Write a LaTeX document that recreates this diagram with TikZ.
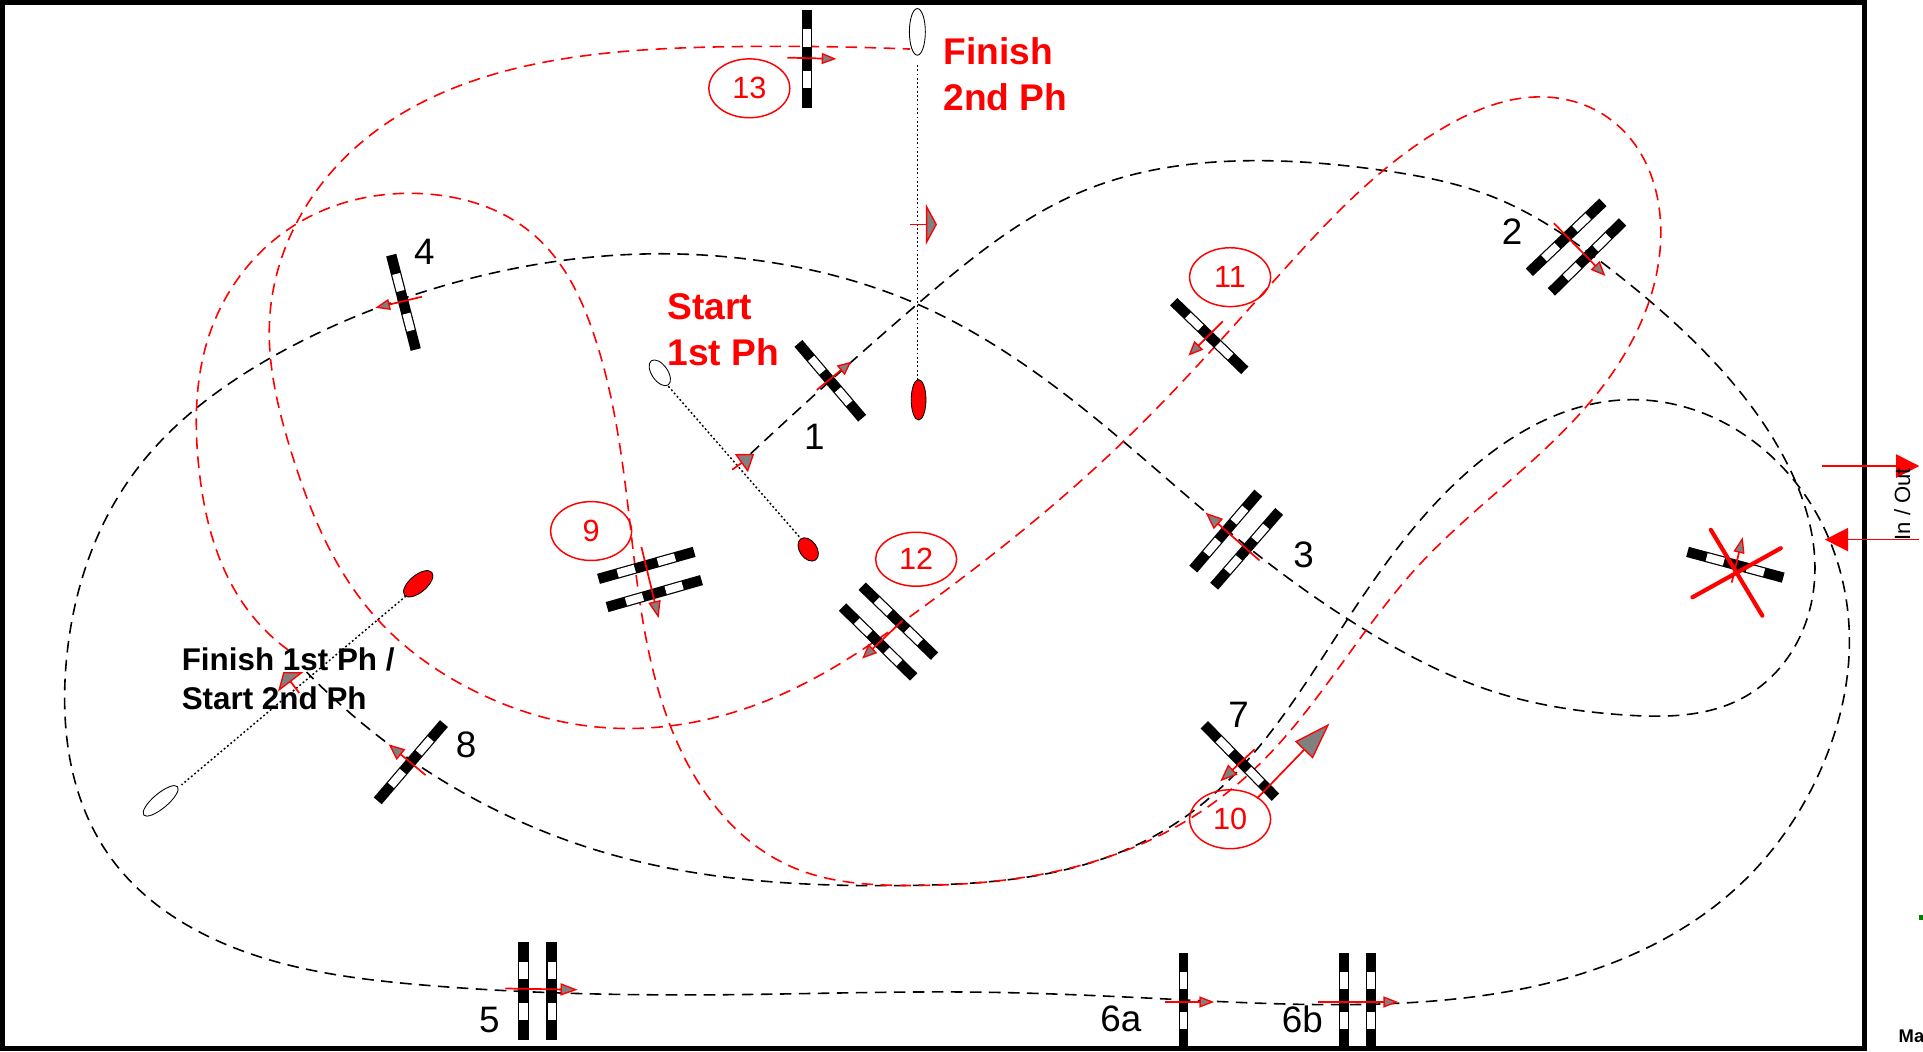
\documentclass[tikz,border=0pt]{standalone}
\usepackage{fontspec}
\setmainfont{Liberation Sans}
\usetikzlibrary{calc,arrows.meta,shapes.geometric,hobby}
\newcommand{\fsz}[1]{\fontsize{#1}{#1}\selectfont}
\newcommand{\gate}[4]{%
  \coordinate (ga) at (#1); \coordinate (gb) at (#2);
  \draw[line width=#3pt,black] (ga) -- (gb);
  \draw[line width=#4pt,white] ($(ga)!.2!(gb)$) -- ($(ga)!.38!(gb)$);
  \draw[line width=#4pt,white] ($(ga)!.62!(gb)$) -- ($(ga)!.8!(gb)$);
}
\newcommand{\farrow}[4]{%
  \draw[redline,-{Triangle[length=#3pt,width=#4pt,fill=midgray,line width=1.1pt]}] #1 -- #2;
}
\definecolor{midgray}{RGB}{128,128,128}
\definecolor{pure}{RGB}{255,0,0}
\tikzset{
  route/.style={line width=1.3pt,dash pattern=on 9.5pt off 6pt,use Hobby shortcut},
  blackroute/.style={route,black},
  redroute/.style={route,pure},
  dotline/.style={line width=1.2pt,black,dash pattern=on 1.5pt off 2pt},
  redline/.style={pure,line width=1.4pt},
  numlabel/.style={font=\fsz{30},inner sep=0pt,black},
  circled/.style={draw=pure,line width=1.2pt,ellipse,minimum width=66pt,minimum height=48pt,inner sep=0pt,font=\fsz{25},text=pure},
  redtitle/.style={font=\fsz{30.3}\bfseries,text=pure,align=left,anchor=west,inner sep=0pt},
  marker/.style={draw=black,line width=.7pt,ellipse,inner sep=0pt},
}
\begin{document}
\begin{tikzpicture}[x=1pt,y=-1pt]
\useasboundingbox (0,0) rectangle (1568,857);
\fill[white] (0,0) rectangle (1568,857);
% routes
\draw[blackroute] (612,370) .. (748,248) .. (885,155) .. (1023,131) .. (1128,139) .. (1216,160) .. (1314,220) .. (1383,280) .. (1453,370) .. (1479,479) .. (1423,568) .. (1325,583) .. (1218,564) .. (1117,516) .. (1025,452) .. (916,360) .. (748,248) .. (635,215) .. (530,207) .. (342,239) .. (222,291) .. (109,386) .. (54,540) .. (90,699) .. (175,766) .. (343,803) .. (600,811) .. (800,809) .. (960,815) .. (1141,818) .. (1325,781) .. (1417,723) .. (1487,622) .. (1508,523) .. (1458,386) .. (1325,326) .. (1201,381) .. (1098,506) .. (972,662) .. (897,701) .. (740,722) .. (489,694) .. (352,631) .. (250,548);
\draw[redroute] (235,530) .. (204,500) .. (162,380) .. (171,272) .. (238,185) .. (346,158) .. (437,193) .. (484,272) .. (513,421) .. (547,593) .. (646,707) .. (740,722) .. (942,683) .. (1025,625) .. (1155,463) .. (1303,320) .. (1354,198) .. (1314,98) .. (1256,79) .. (1179,103) .. (1037,231) .. (916,360) .. (750,497) .. (640,565) .. (489,593) .. (384,562) .. (306,503) .. (237,367) .. (220,258) .. (288,122) .. (480,45) .. (600,38) .. (742,40);
% phase lines and markers
\node[marker,fill=white,minimum width=13pt,minimum height=38pt] (fin2) at (748,26) {};
\node[marker,fill=pure,minimum width=12pt,minimum height=33pt] (fin2b) at (749,326) {};
\node[marker,fill=white,minimum width=13pt,minimum height=24pt,rotate=35] (st1) at (538,304) {};
\node[marker,fill=pure,minimum width=14pt,minimum height=21pt,rotate=35] (st1b) at (659,448) {};
\node[marker,fill=pure,minimum width=14pt,minimum height=29pt,rotate=-50] (fp1) at (341,476) {};
\node[marker,fill=white,minimum width=12pt,minimum height=36pt,rotate=-50] (fp1b) at (131,653) {};
\draw[dotline] (748,53) -- (748,310);
\draw[dotline] (545,315) -- (652,438);
\draw[dotline] (331,486) -- (148,640);
% gates
\gate{658,8}{658,88}{8.5}{6.5}
\gate{319,208}{339,285}{8.5}{6.5}
\gate{651,280}{703,341}{8.5}{6.5}
\gate{957,246}{1015,302}{8.5}{6.5}
\gate{1247,222}{1307,165}{8.5}{6.5}
\gate{1265,238}{1323,181}{8.5}{6.5}
\gate{973,464}{1026,402}{8.5}{6.5}
\gate{990,478}{1043,417}{8.5}{6.5}
\gate{488,472}{566,450}{8.5}{6.5}
\gate{495,495}{572,473}{8.5}{6.5}
\gate{703,478}{762,535}{8.5}{6.5}
\gate{687,495}{745,552}{8.5}{6.5}
\gate{308,653}{362,590}{8.5}{6.5}
\gate{427,768}{427,848}{9}{7}
\gate{450,768}{450,848}{9}{7}
\gate{965,777}{965,855}{8}{6}
\gate{1096,777}{1096,855}{8}{6}
\gate{1118,777}{1118,855}{8}{6}
\gate{982,591}{1040,650}{8.5}{6.5}
\gate{1376,450}{1454,471}{8.5}{6.5}
% crossed-out gate
\draw[pure,line width=3.4pt,line cap=round] (1395,432) -- (1437,502);
\draw[pure,line width=3.4pt,line cap=round] (1380,487) -- (1452,447);
% direction arrows
\farrow{(642,47)}{(682,48)}{12}{9}
\farrow{(742,183)}{(764,183)}{9}{33}
\farrow{(666,318)}{(694,295)}{11}{10}
\farrow{(597,383)}{(615,370)}{13}{18}
\farrow{(344,242)}{(306,251)}{12}{9}
\farrow{(997,262)}{(969,290)}{12}{10}
\farrow{(1267,182)}{(1309,225)}{12}{10}
\farrow{(1027,457)}{(983,418)}{14}{11}
\farrow{(1023,611)}{(995,637)}{14}{11}
\farrow{(1025,651)}{(1084,590)}{30}{20}
\farrow{(1412,475)}{(1421,438)}{13}{9}
\farrow{(950,817)}{(990,817)}{12}{9}
\farrow{(1075,817)}{(1140,817)}{12}{9}
\farrow{(412,806)}{(471,807)}{14}{10}
\farrow{(523,446)}{(537,504)}{14}{10}
\farrow{(736,506)}{(703,537)}{12}{10}
\farrow{(347,632)}{(317,607)}{13}{11}
\farrow{(244,565)}{(231,548)}{10}{26}
% arena
\draw[black,line width=4pt] (2,2) rectangle (1520,855);
% in / out
\coordinate (inA) at (1486,380); \coordinate (inB) at (1565,380);
\coordinate (outA) at (1565,440); \coordinate (outB) at (1488,440);
\draw[redline,-{Triangle[length=19pt,width=19pt]}] (inA) -- (inB);
\draw[redline,-{Triangle[length=19pt,width=19pt]}] (outA) -- (outB);
\node[rotate=90,font=\fsz{18},inner sep=0pt] (inout) at (1551,411) {In / Out};
% labels
\node[numlabel] (n1) at (664,356) {1};
\node[numlabel] (n2) at (1233,189) {2};
\node[numlabel] (n3) at (1063,452) {3};
\node[numlabel] (n4) at (346,205) {4};
\node[numlabel] (n5) at (399,832) {5};
\node[numlabel] (n6a) at (914,831) {6a};
\node[numlabel] (n6b) at (1062,831) {6b};
\node[numlabel] (n7) at (1010,583) {7};
\node[numlabel] (n8) at (380,607) {8};
\node[circled] (c9) at (482,433) {9};
\node[circled] (c10) at (1003,668) {10};
\node[circled] (c11) at (1003,226) {11};
\node[circled,minimum height=44pt] (c12) at (747,456) {12};
\node[circled] (c13) at (611,72) {13};
\node[redtitle] (t1) at (769,42) {Finish};
\node[redtitle] (t2) at (769,79) {2nd Ph};
\node[redtitle] (t3) at (544,250) {Start};
\node[redtitle] (t4) at (544,287) {1st Ph};
\node[font=\fsz{25.6}\bfseries,anchor=west,inner sep=0pt] (t5) at (148,538) {Finish 1st Ph /};
\node[font=\fsz{25.6}\bfseries,anchor=west,inner sep=0pt] (t6) at (148,569) {Start 2nd Ph};
\node[font=\fsz{15}\bfseries,anchor=west,inner sep=0pt] (ma) at (1548,845) {Ma};
\fill[green!50!black] (1565,746) rectangle (1568,750);
\end{tikzpicture}
\end{document}
